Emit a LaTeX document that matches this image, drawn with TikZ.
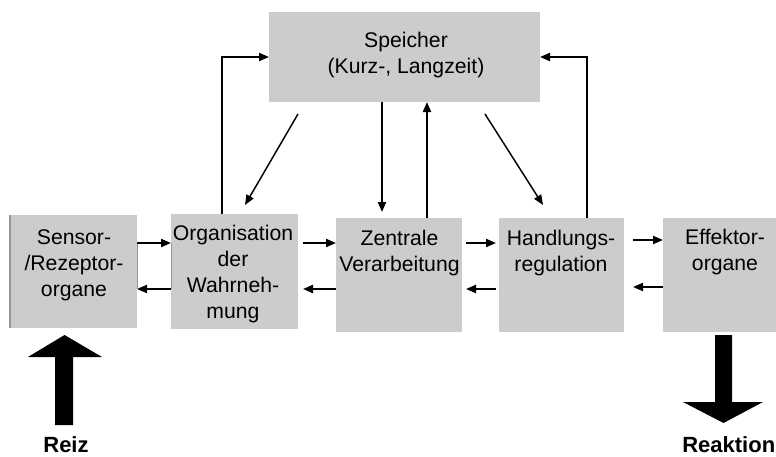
\documentclass[tikz,border=0pt]{standalone}
\usepackage{fontspec}
\setmainfont{Liberation Sans}
\usetikzlibrary{arrows.meta}
\definecolor{boxgray}{RGB}{204,204,204}
\definecolor{edgegray}{RGB}{150,150,150}
\begin{document}
\begin{tikzpicture}[x=0.75pt,y=-0.75pt,
  box/.style={fill=boxgray, draw=none, inner sep=0pt, outer sep=0pt},
  lbl/.style={anchor=north, align=center, inner sep=0pt,
    font=\fontsize{15.9}{19.5}\selectfont},
  arr/.style={line width=1.5pt, -{Triangle[length=7.5pt,width=6pt]}},
  diag/.style={line width=1.1pt, -{Triangle[length=7.5pt,width=6pt]}},
  caption/.style={font=\bfseries\fontsize{16.5}{19.5}\selectfont, inner sep=0pt}]
\useasboundingbox (0,0) rectangle (776,457);

% blocks
\node[box, minimum width=203.25pt, minimum height=67.5pt] (mem) at (404.5,57) {};
\node[box, minimum width=95.25pt, minimum height=84.75pt] (sensor) at (73.5,271.5) {};
\node[box, minimum width=95.25pt, minimum height=86.25pt] (org) at (234.5,271.5) {};
\node[box, minimum width=94.5pt, minimum height=85.5pt] (zen) at (399,275) {};
\node[box, minimum width=93.75pt, minimum height=85.5pt] (hand) at (561.5,275) {};
\node[box, minimum width=84.75pt, minimum height=85.5pt] (eff) at (719.5,275) {};

% block labels
\node[lbl] (memtxt) at (406,28.8) {\strut Speicher\\(Kurz-, Langzeit)};
\node[lbl] (sensortxt) at (74,226.3) {\strut Sensor-\\/Rezeptor-\\organe};
\node[lbl] (orgtxt) at (233,222.3) {\strut Organisation\\der\\Wahrneh-\\mung};
\node[lbl] (zentxt) at (399.5,227.3) {\strut Zentrale\\Verarbeitung};
\node[lbl] (handtxt) at (561,227.3) {\strut Handlungs-\\regulation};
\node[lbl] (efftxt) at (725,226.3) {\strut Effektor-\\organe};

% edge lines
\draw[line width=1pt, edgegray] (sensor.north west) -- (sensor.south west);
\draw[line width=0.6pt, edgegray] (sensor.east |- 0,243) -- (sensor.east |- 0,289);
\draw[line width=0.6pt, edgegray] (org.west |- 0,243) -- (org.west |- 0,289);

% forward / backward chain
\draw[arr] (sensor.east |- 0,243) -- (org.west |- 0,243);
\draw[arr] (org.west |- 0,289) -- (sensor.east |- 0,289);
\draw[arr, shorten <=3.75pt] (org.east |- 0,243) -- (zen.west |- 0,243);
\draw[arr, shorten >=3.75pt] (zen.west |- 0,289) -- (org.east |- 0,289);
\draw[arr, shorten <=3pt, shorten >=2.25pt] (zen.east |- 0,243) -- (hand.west |- 0,243);
\draw[arr, shorten <=2.25pt, shorten >=3pt] (hand.west |- 0,289) -- (zen.east |- 0,289);
\draw[arr, shorten <=6.75pt] (hand.east |- 0,240) -- (eff.west |- 0,240);
\draw[arr, shorten >=6.75pt] (eff.west |- 0,287) -- (hand.east |- 0,287);

% memory links
\draw[arr, shorten >=4.5pt] (mem.south -| 382,0) -- (zen.north -| 382,0);
\draw[arr] (zen.north -| 427,0) -- (mem.south -| 427,0);
\draw[arr] (org.north -| 222,0) |- (mem.west);
\draw[arr] (hand.north -| 587,0) |- (mem.east);
\coordinate (memL) at (298,114);
\coordinate (orgT) at (245,205);
\coordinate (memR) at (485,114);
\coordinate (handT) at (543,205);
\draw[diag] (memL) -- (orgT);
\draw[diag] (memR) -- (handT);

% stimulus and response
\fill (55,425) -- (55,357) -- (28,357) -- (64.5,335) -- (102,357) -- (73,357) -- (73,425) -- cycle;
\fill (715,335) -- (732,335) -- (732,402) -- (763,402) -- (723.5,423) -- (683,402) -- (715,402) -- cycle;
\node[caption, anchor=base] (reiz) at (66,452) {Reiz};
\node[caption, anchor=base east] (reaktion) at (775.5,452.5) {Reaktion};
\end{tikzpicture}
\end{document}
